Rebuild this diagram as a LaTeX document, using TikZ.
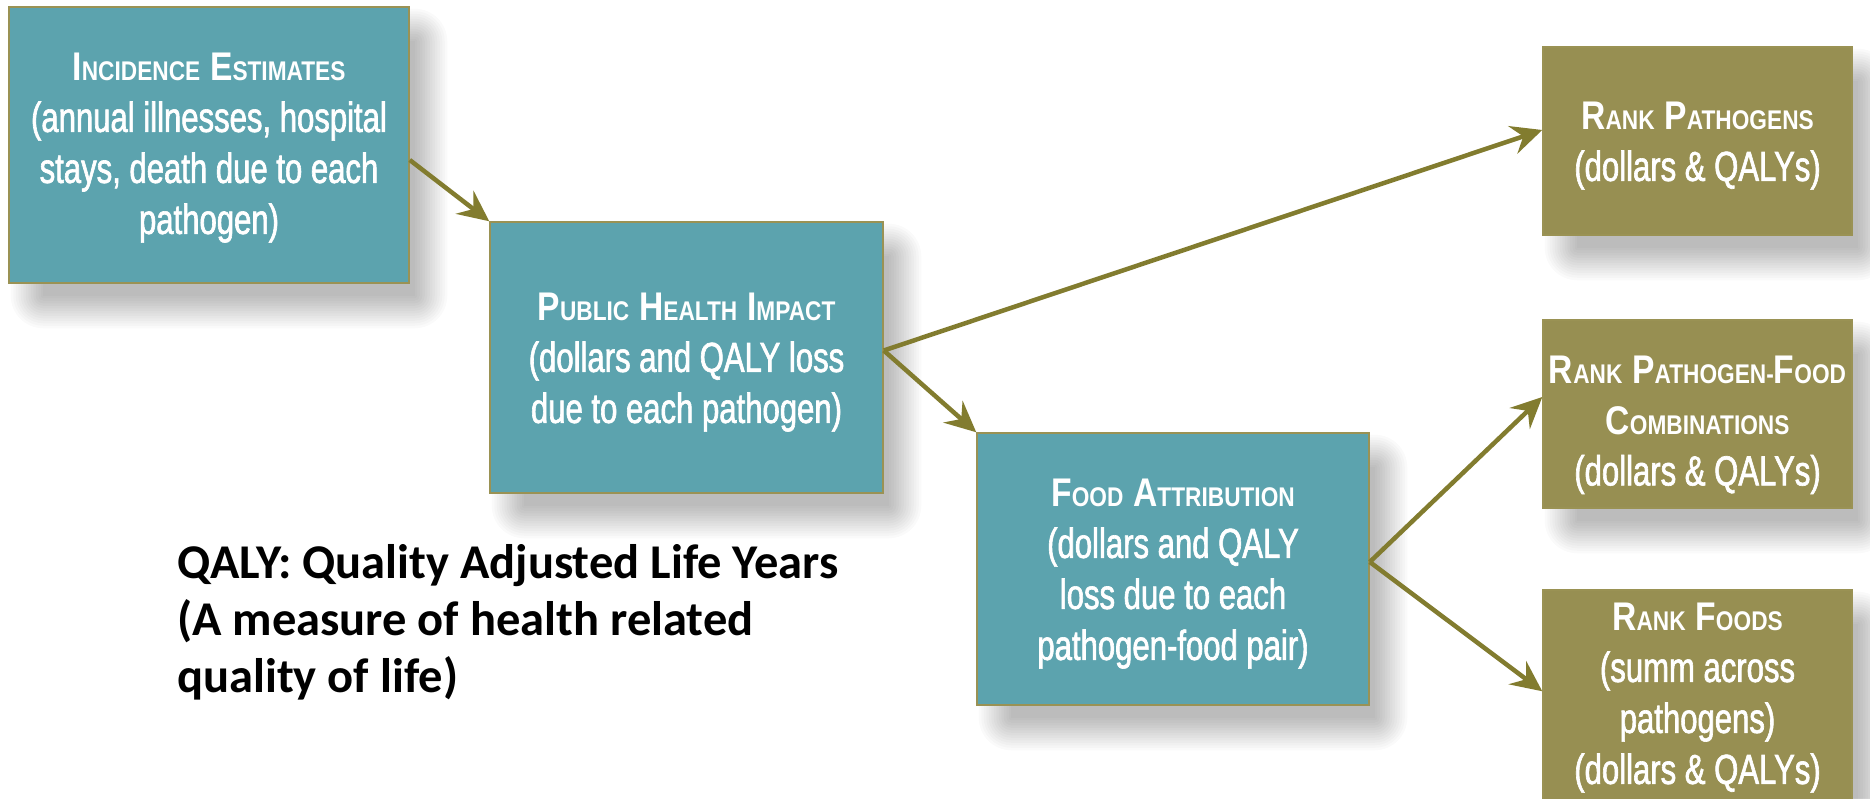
\documentclass[tikz,border=0pt]{standalone}
\usepackage{fontspec}
\setmainfont{Liberation Sans}
\newfontfamily\bxfont[FakeStretch=0.74,FakeBold=1.5]{Liberation Sans}
\newfontfamily\bxhead[FakeStretch=0.84]{Liberation Sans}
\newfontfamily\notefont{Carlito}
\usetikzlibrary{arrows.meta,calc,backgrounds}

\definecolor{tealbox}{HTML}{5CA3AE}
\definecolor{olivebox}{HTML}{978F52}
\definecolor{boxedge}{HTML}{9A9254}
\definecolor{arrowcol}{HTML}{827C2F}

% fake small caps: large initial, smaller remaining capitals
\newcommand\smc[2]{{\fontsize{40}{51}\selectfont #1}{\fontsize{27}{51}\selectfont #2}}
\newcommand\headline[1]{{\bxhead\bfseries #1}}

\tikzset{
  stagebox/.style={draw=boxedge, line width=1.5pt, inner sep=0pt},
  tealstage/.style={stagebox, fill=tealbox},
  olivestage/.style={stagebox, fill=olivebox},
  stagetext/.style={inner sep=0pt, text=white, align=center,
    font=\bxfont\fontsize{42}{51}\selectfont},
  flow/.style={draw=arrowcol, line width=4.5pt,
    -{Stealth[length=31pt,width=29pt,inset=11pt]}},
}

\begin{document}
\begin{tikzpicture}[x=1pt,y=-1pt]
\useasboundingbox (0,0) rectangle (1870,798);

% stage boxes
\node[tealstage, minimum width=400pt, minimum height=276pt] (inc) at (209,145) {};
\node[tealstage, minimum width=393pt, minimum height=271pt] (phi) at (686.5,357.5) {};
\node[tealstage, minimum width=392pt, minimum height=272pt] (fa) at (1173,569) {};
\node[olivestage, minimum width=309pt, minimum height=188pt] (rp) at (1697.5,141) {};
\node[olivestage, minimum width=309pt, minimum height=188pt] (rpf) at (1697.5,414) {};
\node[olivestage, minimum width=309pt, minimum height=214pt] (rf) at (1697.5,697) {};

% stage texts
\node[stagetext] (incT) at ([yshift=-3pt]inc.center)
  {\headline{\smc{I}{NCIDENCE} \smc{E}{STIMATES}}\\(annual illnesses, hospital\\stays, death due to each\\pathogen)};
\node[stagetext] (phiT) at ([yshift=-5pt]phi.center)
  {\headline{\smc{P}{UBLIC} \smc{H}{EALTH} \smc{I}{MPACT}}\\(dollars and QALY loss\\due to each pathogen)};
\node[stagetext] (faT) at ([yshift=-5pt]fa.center)
  {\headline{\smc{F}{OOD} \smc{A}{TTRIBUTION}}\\(dollars and QALY\\loss due to each\\pathogen-food pair)};
\node[stagetext] (rpT) at ([yshift=-5pt]rp.center)
  {\headline{\smc{R}{ANK} \smc{P}{ATHOGENS}}\\(dollars \& QALYs)};
\node[stagetext] (rpfT) at ([yshift=-11pt]rpf.center)
  {\headline{\smc{R}{ANK} \smc{P}{ATHOGEN-}\smc{F}{OOD}}\\\headline{\smc{C}{OMBINATIONS}}\\(dollars \& QALYs)};
\node[stagetext] (rfT) at ([yshift=-1pt]rf.center)
  {\headline{\smc{R}{ANK} \smc{F}{OODS}}\\(summ across\\pathogens)\\(dollars \& QALYs)};

% footnote on the abbreviation (anchored at the baseline of its last line)
\node[anchor=base west, align=left, inner sep=0pt,
  font=\notefont\bfseries\fontsize{48.5}{57}\selectfont] (note) at (177,692)
  {QALY: Quality Adjusted Life Years\\(A measure of health related\\quality of life)};

% connectors
\draw[flow] ([yshift=-15pt]inc.east) -- (phi.north west);
\draw[flow] ([yshift=7pt]phi.east) -- ([yshift=11pt]rp.west);
\draw[flow] ([yshift=7pt]phi.east) -- (fa.north west);
\draw[flow] ([yshift=7pt]fa.east) -- ([yshift=17pt]rpf.west);
\draw[flow] ([yshift=7pt]fa.east) -- ([yshift=-102pt]rf.north west);

% white page and soft drop shadows behind the boxes
\begin{scope}[on background layer]
  \fill[white] (0,0) rectangle (1870,798);
  \foreach \n in {inc,phi,fa,rp,rpf,rf}{
    \foreach \i in {0,...,13}{
      \pgfmathsetmacro\r{2.5*\i}
      \fill[black, opacity=0.02, rounded corners=\r pt]
        ($(\n.north west)+(35-\r,35-\r)$) rectangle ($(\n.south east)+(5+\r,12+\r)$);
    }
  }
\end{scope}
\end{tikzpicture}
\end{document}
